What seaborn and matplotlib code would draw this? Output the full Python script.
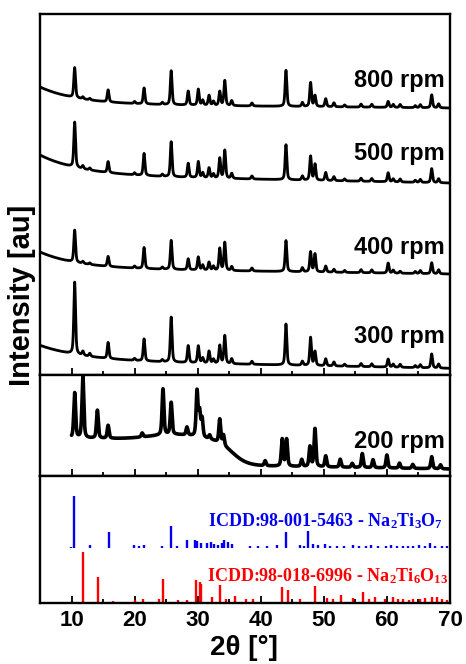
import numpy as np
import pandas as pd
import matplotlib
matplotlib.use("Agg")
import matplotlib.pyplot as plt
from matplotlib.ticker import MultipleLocator
import seaborn as sns

# ---------------------------------------------------------------- data
two_theta = np.round(np.arange(5.0, 70.0001, 0.02), 3)

# Reflections of the products milled at 300-800 rpm (2theta, deg)
peak_pos = [10.5, 11.8, 12.9, 15.8, 20.0, 21.5, 24.4, 25.8, 28.5, 30.1, 30.8,
            31.8, 32.5, 33.5, 34.3, 35.4, 38.6, 44.0, 46.6, 47.9, 48.6, 50.3,
            51.6, 53.3, 55.9, 57.6, 60.2, 61.0, 62.1, 64.5, 65.3, 67.1, 68.2]
h_800 = [30, 2, 1.5, 12, 2, 16, 2, 34, 14, 16, 5, 10, 4, 14, 25, 5, 3, 36, 4,
         24, 11, 8, 4, 2, 3, 3, 6, 3, 3, 2, 3, 13, 4]
h_500 = [45, 3, 2, 11, 2, 22, 2, 35, 14, 16, 5, 10, 4, 20, 28, 5, 3, 35, 4,
         24, 16, 8, 4, 2, 3, 3, 9, 3, 3, 2, 3, 14, 4]
h_400 = [32, 2, 1.5, 10, 2, 21, 2, 29, 11, 13, 5, 8, 4, 22, 28, 4, 3, 31, 4,
         20, 18, 6, 3, 2, 3, 3, 10, 3, 2, 2, 3, 11, 4]
h_300 = [72, 4, 3, 16, 2, 22, 2, 45, 17, 17, 5, 12, 4, 18, 28, 5, 3, 41, 4,
         28, 14, 7, 4, 2, 3, 3, 8, 3, 3, 2, 3, 14, 4]

# Background of each pattern: low-angle rise, decay length, linear tilt
bg_rise = [17, 20, 16, 15]
bg_decay = [6.0, 6.5, 6.0, 7.0]
bg_tilt = [4, 8, 6, 8]
stack_level = [267, 192, 101, 6.7]
speeds = ["800 rpm", "500 rpm", "400 rpm", "300 rpm"]

# 200 rpm product (measured from 10 deg)
pos_200 = [10.5, 11.8, 14.1, 15.8, 21.2, 24.5, 25.8, 28.3, 29.9, 30.3, 30.7,
           31.9, 33.5, 34.1, 40.7, 43.4, 44.1, 46.5, 47.8, 48.6, 50.3, 52.6,
           54.5, 56.1, 57.8, 60.0, 62.0, 64.1, 67.1, 68.5]
h_200 = [45, 62, 28, 13, 4, 46, 32, 8, 45, 24, 18, 4, 24, 10, 5, 27, 27, 7,
         20, 38, 11, 8, 4, 14, 8, 13, 5, 4, 12, 4]

# Reference cards (2theta, relative height)
na2ti3o7_pos = [9.9, 10.44, 13.0, 15.9, 19.9, 20.7, 21.5, 24.3, 25.8, 26.7,
                28.3, 29.6, 29.9, 30.6, 31.4, 32.1, 32.6, 33.2, 33.8, 34.2,
                34.8, 35.4, 38.3, 39.6, 41.0, 42.5, 44.0, 46.3, 46.9, 47.5,
                48.3, 49.1, 50.2, 51.0, 52.1, 53.2, 54.6, 55.6, 56.7, 57.5,
                58.6, 59.8, 60.6, 61.6, 62.5, 63.4, 64.2, 65.1, 66.0, 66.8,
                67.6, 68.8, 69.6]
na2ti3o7_h = [1, 51.6, 3, 16, 3, 2, 3, 2, 21.6, 2, 8, 8, 7, 5, 5, 6, 4, 3, 5,
              8, 6, 4, 2, 2, 2, 3, 16, 3, 2, 16.6, 4, 3, 4, 2, 2, 2, 3, 2, 2,
              3, 2, 2, 3, 2, 2, 2, 2, 3, 2, 5, 2, 2, 2]
na2ti6o13_pos = [11.87, 14.15, 16.6, 20.1, 21.3, 23.9, 24.5, 26.9, 28.3, 29.8,
                 30.3, 30.6, 32.2, 33.5, 34.5, 35.9, 37.7, 38.8, 43.4, 44.3,
                 46.2, 48.6, 50.5, 51.4, 52.8, 54.7, 56.2, 57.2, 58.1, 59.7,
                 61.0, 61.8, 62.6, 63.5, 64.2, 65.2, 66.0, 67.1, 67.9, 68.7,
                 69.5]
na2ti6o13_h = [50, 25, 1, 2, 3, 3, 23.5, 2, 2, 22, 20, 18.5, 5, 17, 3, 6, 3,
               3, 15, 12.5, 3, 16, 4, 3, 7, 4, 10, 3, 5, 3, 5, 3, 3, 2, 3, 3,
               4, 5, 5, 3, 2]

label_3_7 = "ICDD:98-001-5463 - Na$_2$Ti$_3$O$_7$"
label_6_13 = "ICDD:98-018-6996 - Na$_2$Ti$_6$O$_{13}$"


def profile(x, centers, heights, fwhm):
    """Sum of pseudo-Voigt reflections."""
    y = np.zeros_like(x)
    for c, h in zip(centers, heights):
        d2 = 4.0 * (x - c) ** 2 / fwhm ** 2
        y += h * (0.5 * np.exp(-np.log(2) * d2) + 0.5 / (1.0 + d2))
    return y


# ---------------------------------------------------------------- style
sns.set_theme(style="ticks")
plt.rcParams["font.family"] = ["Liberation Sans", "DejaVu Sans"]
plt.rcParams["text.color"] = "black"
plt.rcParams["axes.labelcolor"] = "black"
plt.rcParams["xtick.color"] = "black"
plt.rcParams["ytick.color"] = "black"
plt.rcParams["mathtext.fontset"] = "custom"
plt.rcParams["mathtext.rm"] = "Liberation Serif:bold"
plt.rcParams["mathtext.it"] = "Liberation Serif:bold"
plt.rcParams["mathtext.bf"] = "Liberation Serif:bold"

fig = plt.figure(figsize=(4.66, 6.64), dpi=100)
left, width = 0.0858, 0.8798
ax_top = fig.add_axes([left, 0.4352, width, 0.5437])
ax_mid = fig.add_axes([left, 0.2831, width, 0.1521])
ax_bot = fig.add_axes([left, 0.0919, width, 0.1913])

for ax in (ax_top, ax_mid, ax_bot):
    ax.set_xlim(5, 70)
    ax.set_yticks([])
    ax.xaxis.set_major_locator(MultipleLocator(10))
    ax.xaxis.set_minor_locator(MultipleLocator(5))
    ax.tick_params(axis="x", which="major", direction="in", length=5,
                   width=1.3, color="black", labelcolor="black",
                   bottom=True, top=False)
    ax.tick_params(axis="x", which="minor", direction="in", length=3,
                   width=1.3, color="black", bottom=True, top=False)
    for s in ax.spines.values():
        s.set_visible(True)
        s.set_color("black")
        s.set_linewidth(1.7)

# ---------------------------------------------------------------- top panel
for k, heights in enumerate([h_800, h_500, h_400, h_300]):
    bg = (bg_rise[k] * np.exp(-(two_theta - 5.0) / bg_decay[k])
          + bg_tilt[k] * (70.0 - two_theta) / 65.0)
    inten = stack_level[k] + bg + profile(two_theta, peak_pos, heights, 0.32)
    df = pd.DataFrame({"two_theta": two_theta, "intensity": inten})
    sns.lineplot(data=df, x="two_theta", y="intensity", ax=ax_top,
                 color="black", linewidth=2.0, estimator=None, sort=False)
ax_top.set_ylim(0, 361)
ax_top.tick_params(labelbottom=False)
ax_top.set_xlabel("")
ax_top.set_ylabel("")
for name, yb in zip(speeds, [287.7, 215, 121, 32.3]):
    ax_top.text(0.988, yb, name, transform=ax_top.get_yaxis_transform(),
                ha="right", va="baseline", fontsize=17, fontweight="bold",
                color="black")

# ---------------------------------------------------------------- middle panel
x200 = two_theta[two_theta >= 10.0]
bg200 = (7.0 + 0.1 * (70.0 - x200)
         + 25.0 / (1.0 + np.exp((x200 - 35.5) / 1.2))
         + 5.0 * np.exp(-0.5 * ((x200 - 26.5) / 4.0) ** 2))
i200 = bg200 + profile(x200, pos_200, h_200, 0.34)
df200 = pd.DataFrame({"two_theta": x200, "intensity": i200})
sns.lineplot(data=df200, x="two_theta", y="intensity", ax=ax_mid,
             color="black", linewidth=2.6, estimator=None, sort=False)
ax_mid.set_ylim(0, 101)
ax_mid.tick_params(labelbottom=False)
ax_mid.set_xlabel("")
ax_mid.set_ylabel("")
ax_mid.text(0.988, 27.7, "200 rpm", transform=ax_mid.get_yaxis_transform(),
            ha="right", va="baseline", fontsize=17, fontweight="bold",
            color="black")

# ---------------------------------------------------------------- reference cards
ax_bot.set_ylim(0, 127)
ax_bot.vlines(na2ti3o7_pos, 55, 55 + np.array(na2ti3o7_h), color="#0000ee",
              linewidth=1.7)
ax_bot.vlines(na2ti6o13_pos, 0.8, 0.8 + np.array(na2ti6o13_h), color="#ff0000",
              linewidth=1.7)
ax_bot.text(0.984, 77, label_3_7, transform=ax_bot.get_yaxis_transform(),
            ha="right", va="baseline", fontsize=13, fontweight="bold",
            family=["Liberation Serif", "DejaVu Serif"], color="#0000ee")
ax_bot.text(0.996, 21.3, label_6_13, transform=ax_bot.get_yaxis_transform(),
            ha="right", va="baseline", fontsize=13, fontweight="bold",
            family=["Liberation Serif", "DejaVu Serif"], color="#ff0000")
ax_bot.tick_params(axis="x", labelsize=16, pad=5)
for lbl in ax_bot.get_xticklabels():
    lbl.set_fontweight("bold")
    lbl.set_color("black")

fig.text(0.5236, 1 - 648 / 664, "2θ [°]", ha="center", va="center",
         fontsize=20, fontweight="bold", color="black")
fig.text(22 / 466, 1 - 295 / 664, "Intensity [au]", ha="center", va="center",
         rotation=90, fontsize=21, fontweight="bold", color="black")

fig.savefig("out.png", dpi=100)
